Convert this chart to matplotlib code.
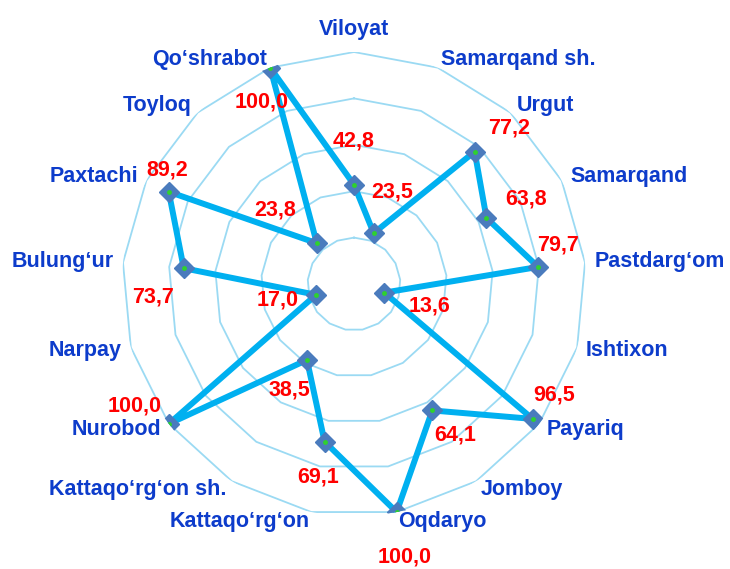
import numpy as np
import matplotlib
matplotlib.use("Agg")
import matplotlib.pyplot as plt

plt.rcParams['font.family'] = ['Liberation Sans', 'DejaVu Sans']

districts = ['Viloyat', 'Samarqand sh.', 'Urgut', 'Samarqand', 'Pastdarg‘om',
             'Ishtixon', 'Payariq', 'Jomboy', 'Oqdaryo', 'Kattaqo‘rg‘on',
             'Kattaqo‘rg‘on sh.', 'Nurobod', 'Narpay', 'Bulung‘ur', 'Paxtachi',
             'Toyloq', 'Qo‘shrabot']
values = [42.8, 23.5, 77.2, 63.8, 79.7, 13.6, 96.5, 64.1, 100.0, 69.1,
          38.5, 100.0, 17.0, 73.7, 89.2, 23.8, 100.0]
rings = [20, 40, 60, 80, 100]

# where each value label sits relative to its point (pixels, x right / y up)
label_offsets = [(0, 44), (18, 41), (34, 24), (40, 19), (20, 22),
                 (45, -13), (21, 24), (23, -25), (8, -45), (-6, -35),
                 (-18, -30), (-34, 18), (-38, -5), (-31, -29), (-2, 22),
                 (-42, 33), (-9, -34)]

blue_text = '#0d3ccb'
line_col = '#00b0f0'
grid_col = '#9bdaf3'

n = len(districts)
theta = np.arange(n) * 2 * np.pi / n

fig = plt.figure(figsize=(7.30, 5.69), dpi=100)
ax = fig.add_axes([122 / 730, 53 / 569, 464 / 730, 464 / 569], projection='polar')
ax.set_theta_offset(np.pi / 2)
ax.set_theta_direction(-1)
ax.set_ylim(0, 100)
ax.grid(False)
ax.set_xticks([])
ax.set_yticks([])
ax.spines['polar'].set_visible(False)
ax.patch.set_alpha(0)

# polygon grid
t_closed = np.append(theta, theta[0])
for r in rings:
    ax.plot(t_closed, [r] * (n + 1), color=grid_col, lw=1.3, zorder=1)

v_closed = values + [values[0]]
ax.plot(t_closed, v_closed, color=line_col, lw=4.3, zorder=3,
        solid_joinstyle='round')
ax.plot(theta, values, 'D', ms=10.5, mfc='#4a7bbd', mec='#4a7bbd', zorder=4)
ax.plot(theta, values, 'o', ms=2.5, mfc='#2fd12f', mec='#2fd12f', zorder=5)

for t, name in zip(theta, districts):
    s = np.sin(t)
    if s > 0.05:
        ha, va, r = 'left', 'center', 104
    elif s < -0.05:
        ha, va, r = 'right', 'center', 104
    else:
        ha, va, r = 'center', 'bottom', 105
    ax.text(t, r, name, ha=ha, va=va, color=blue_text, fontsize=15.5,
            fontweight='bold', clip_on=False)

for t, v, off in zip(theta, values, label_offsets):
    ax.annotate(f'{v:.1f}'.replace('.', ','), xy=(t, v), xytext=off,
                textcoords='offset pixels', ha='center', va='center',
                color='#ff0000', fontsize=15.5, fontweight='bold',
                annotation_clip=False, zorder=6)

fig.savefig('out.png', dpi=100)
